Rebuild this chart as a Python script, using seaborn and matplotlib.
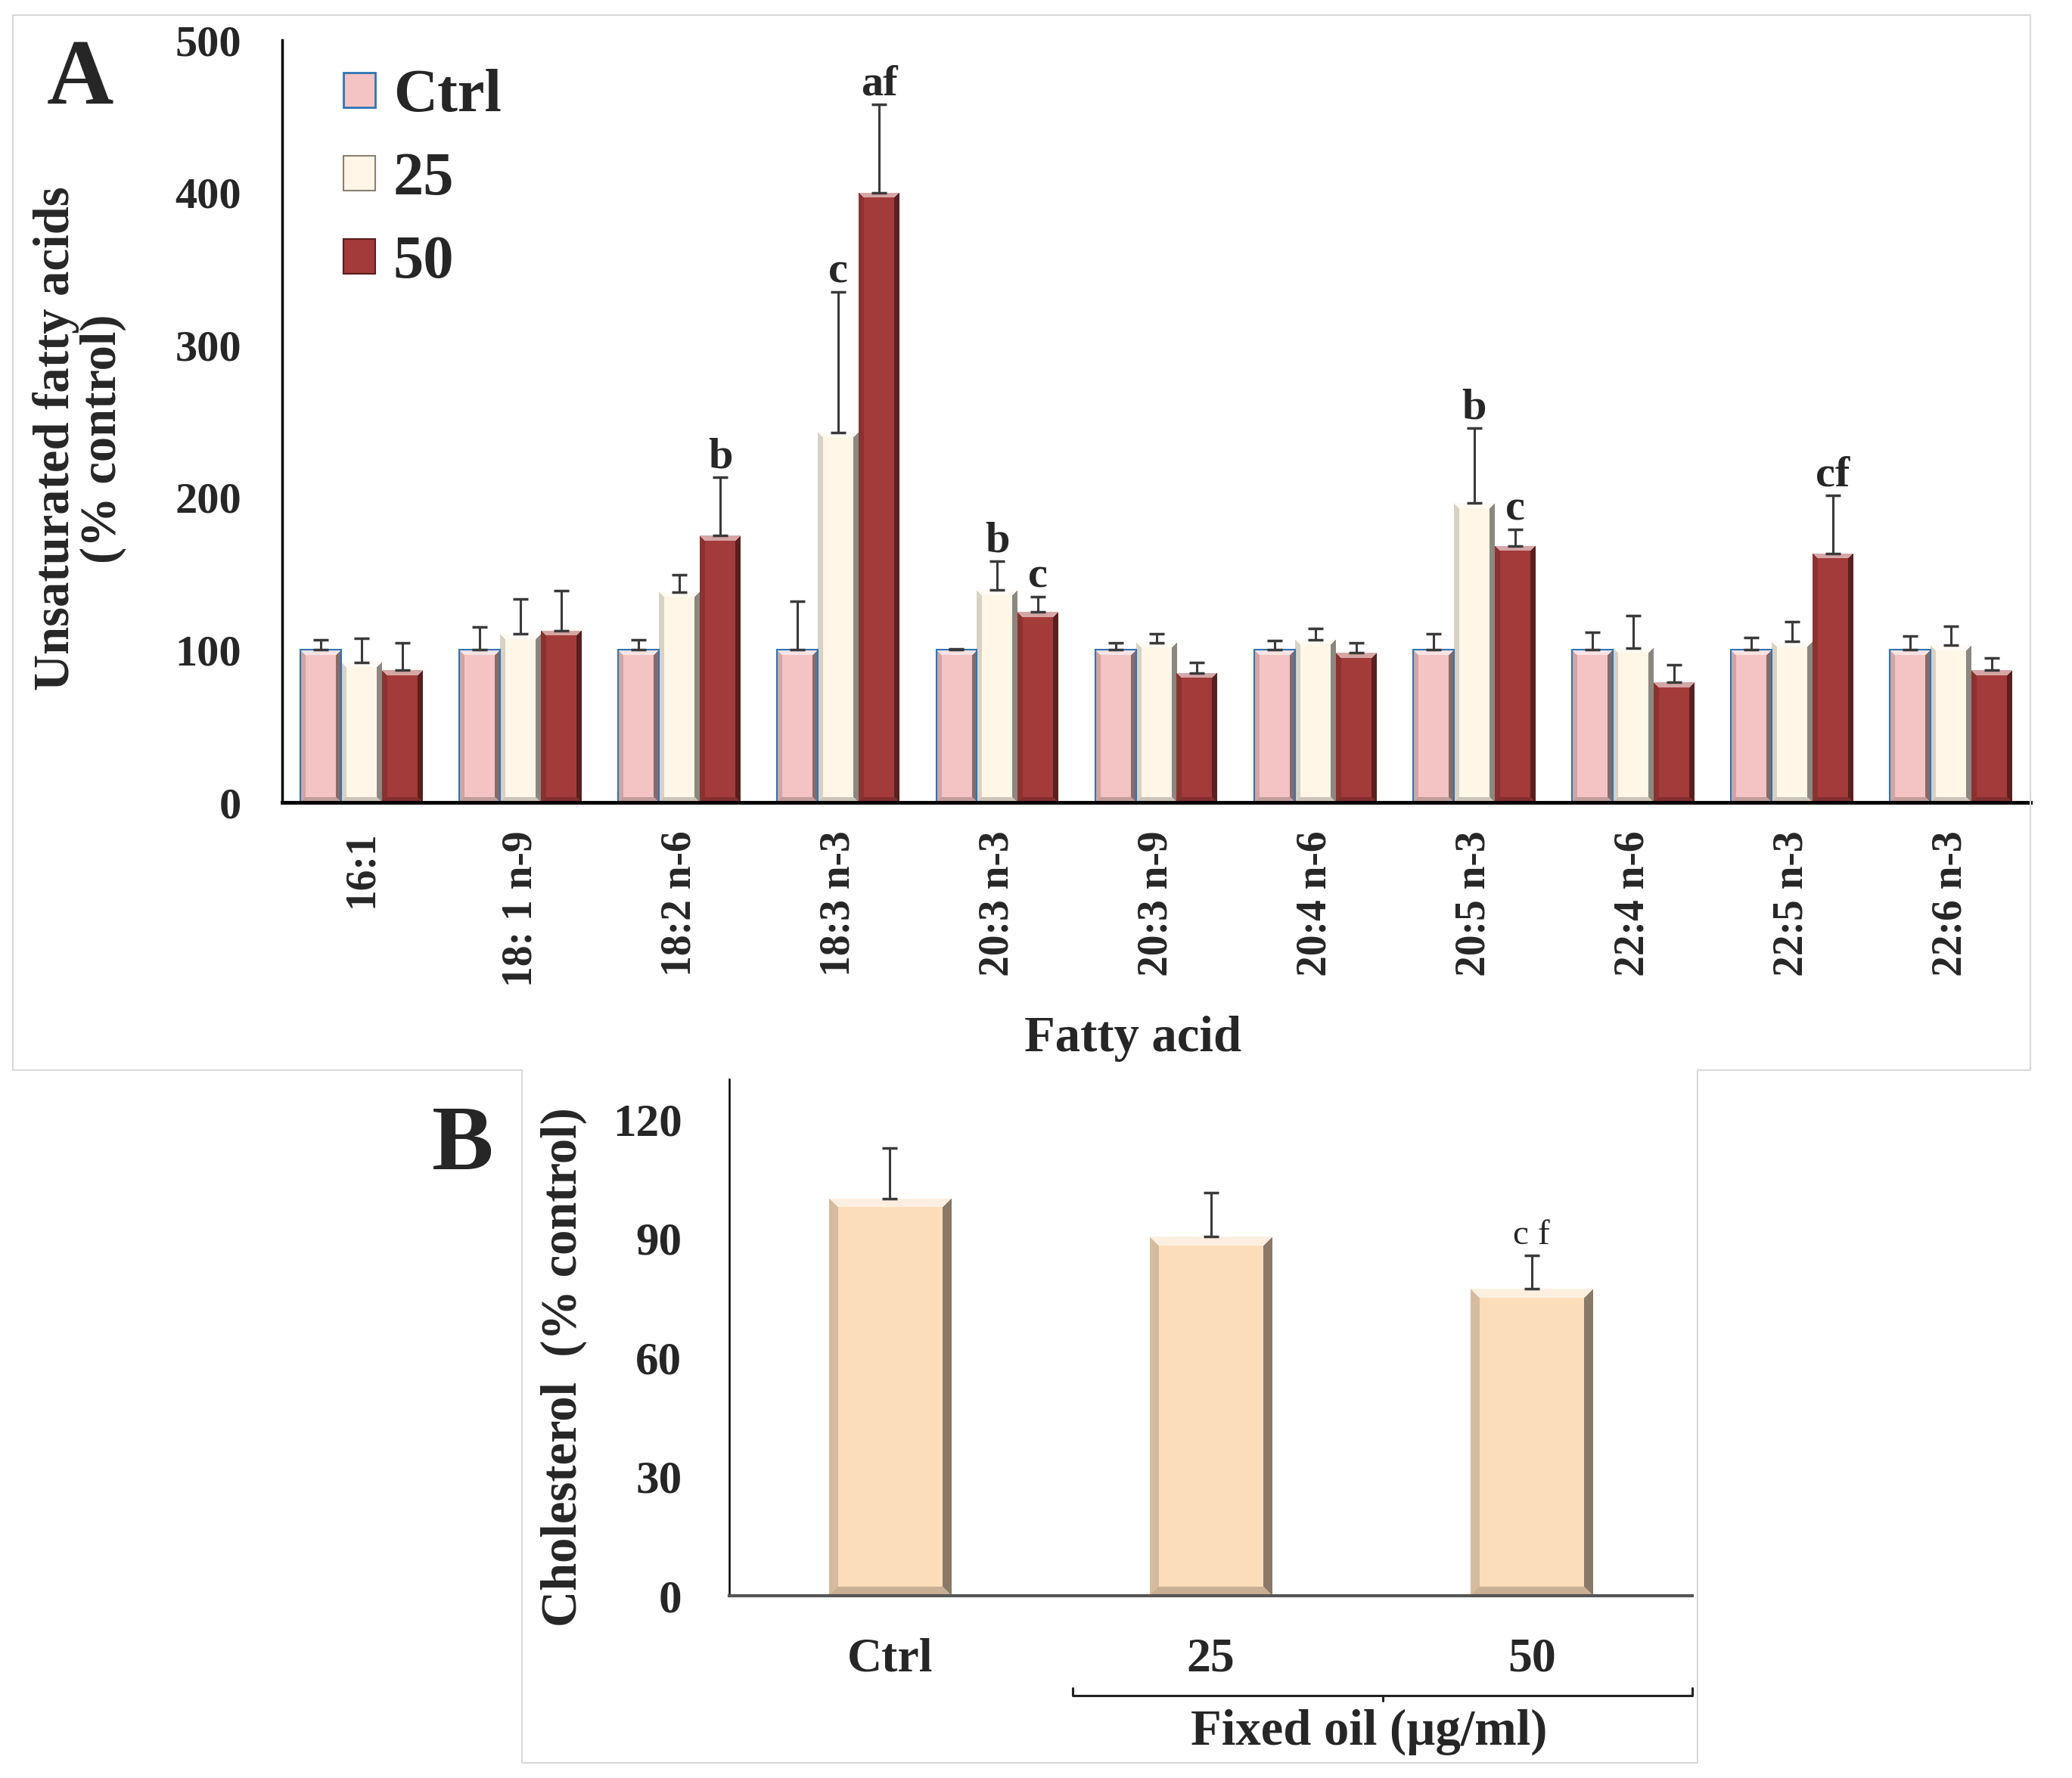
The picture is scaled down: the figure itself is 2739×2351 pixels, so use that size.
import numpy as np
import pandas as pd
import matplotlib
matplotlib.use('Agg')
import matplotlib.pyplot as plt
import matplotlib.transforms as mtransforms
from matplotlib.colors import to_rgb
from matplotlib.patches import Patch
from matplotlib.lines import Line2D
import seaborn as sns

# Panel A data: unsaturated fatty acids (% control)
acids = ['16:1', '18: 1 n-9', '18:2 n-6', '18:3 n-3', '20:3 n-3', '20:3 n-9',
         '20:4 n-6', '20:5 n-3', '22:4 n-6', '22:5 n-3', '22:6 n-3']
groups = ['Ctrl', '25', '50']
ctrl = [100, 100, 100, 100, 100, 100, 100, 100, 100, 100, 100]
ctrl_err = [6.5, 15, 6.5, 32, 0.5, 4.7, 6.3, 10.7, 11.6, 7.9, 9]
d25 = [91.8, 110.6, 138, 242.8, 139.3, 104.7, 106.7, 196.4, 101.4, 105.5, 103]
d25_err = [15.9, 22.6, 11.3, 92, 18.7, 6, 7.5, 49.3, 20.9, 13, 12.4]
d50 = [86.6, 112.7, 175, 400, 124.8, 85, 98.2, 168.4, 78.8, 163.4, 86.8]
d50_err = [18.2, 26.3, 38.4, 58, 10, 6.9, 6.5, 10.7, 11.4, 38.1, 7.7]

# significance letters in panel A
sig_acid = ['18:2 n-6', '18:3 n-3', '18:3 n-3', '20:3 n-3', '20:3 n-3', '20:5 n-3', '20:5 n-3', '22:5 n-3']
sig_group = ['50', '25', '50', '25', '50', '25', '50', '50']
sig_text = ['b', 'c', 'af', 'b', 'c', 'b', 'c', 'cf']

# Panel B data: cholesterol (% control)
b_groups = ['Ctrl', '25', '50']
b_vals = [100, 90.4, 77.2]
b_err = [12.6, 11.0, 8.4]
b_sig = ['', '', 'c f']

colorsA = ['#F4C3C3', '#FFF6E8', '#A33B3A']
colorB = '#FCDDBA'

W, H = 2739, 2351
sns.set_style('white')
plt.rcParams['font.family'] = ['Liberation Serif', 'DejaVu Serif']
plt.rcParams['font.weight'] = 'bold'

fig = plt.figure(figsize=(W / 100, H / 100), dpi=100)


def px(x, y):
    return x / W, 1 - y / H


def bevel(color, w, h, e):
    # flat colour with a light top chevron, shaded sides and a darker foot
    base = np.array(to_rgb(color))
    w = max(w, 2 * e + 2)
    h = max(h, 2 * e + 2)
    img = np.tile(base, (h, w, 1))
    img[:, :e] = base * 0.85
    img[:, w - e:] = base * 0.55
    hi = base + (1 - base) * 0.55
    lo = base * 0.8
    for r in range(e):
        img[r, r:w - r] = hi
        img[h - 1 - r, r:w - r] = lo
    return img


def shade_bars(ax, patches, color, e):
    for p in patches:
        x0, y0 = p.get_x(), p.get_y()
        x1, y1 = x0 + p.get_width(), y0 + p.get_height()
        (a, b), (c, d) = ax.transData.transform([(x0, y0), (x1, y1)])
        img = bevel(color, int(round(c - a)), int(round(d - b)), e)
        im = ax.imshow(img, extent=[x0, x1, y0, y1], aspect='auto', origin='upper',
                       interpolation='nearest', zorder=1.5)
        im.set_clip_path(p)
        p.set_facecolor('none')
        p.set_zorder(2)


# ---------------- Panel A ----------------
axA = fig.add_axes([373 / W, 1 - 1061 / H, (2684 - 373) / W, (1061 - 53) / H])
dfA = pd.DataFrame({'acid': acids * 3,
                    'group': [g for g in groups for _ in acids],
                    'value': ctrl + d25 + d50})
sns.barplot(data=dfA, x='acid', y='value', hue='group', order=acids, hue_order=groups,
            palette=dict(zip(groups, colorsA)), width=0.77, errorbar=None,
            saturation=1, legend=False, ax=axA)
axA.set_xlim(-0.5, len(acids) - 0.5)
axA.set_ylim(0, 500)

valsA = [ctrl, d25, d50]
errsA = [ctrl_err, d25_err, d50_err]
barsA = [list(c.patches) for c in axA.containers]
for j, bars in enumerate(barsA):
    shade_bars(axA, bars, colorsA[j], 7)
    for p in bars:
        p.set_edgecolor('#2E75B6' if j == 0 else 'none')
        p.set_linewidth(1.5)
    xs = [p.get_x() + p.get_width() / 2 for p in bars]
    axA.errorbar(xs, valsA[j], yerr=[np.zeros(len(xs)), errsA[j]], fmt='none',
                 ecolor='#3a3a3a', elinewidth=2.2, capsize=7, capthick=2.5, zorder=3)
axA.set_xlim(-0.5, len(acids) - 0.5)
axA.set_ylim(0, 500)

for acid, grp, txt in zip(sig_acid, sig_group, sig_text):
    i, j = acids.index(acid), groups.index(grp)
    p = barsA[j][i]
    axA.annotate(txt, xy=(p.get_x() + p.get_width() / 2, valsA[j][i] + errsA[j][i]),
                 xytext=(0, 9), textcoords='offset points', ha='center', va='baseline',
                 fontsize=42, fontweight='bold', zorder=4)

sns.despine(ax=axA)
axA.spines['left'].set_linewidth(2.5)
axA.spines['bottom'].set_linewidth(3.5)
axA.spines['left'].set_color('black')
axA.spines['bottom'].set_color('black')
axA.set_yticks(range(0, 501, 100))
axA.set_xticks(np.arange(-0.5, len(acids), 1.0))
axA.set_xticklabels([])
axA.set_xticks(range(len(acids)), minor=True)
axA.set_xticklabels(acids, minor=True, rotation=90, fontsize=40, fontweight='bold')
axA.tick_params(axis='x', which='major', direction='out', length=15, width=1.5, color='black')
axA.tick_params(axis='x', which='minor', length=0, pad=27)
axA.tick_params(axis='y', direction='out', length=15, width=1.5, color='black',
                labelsize=42, pad=24)
for lab in axA.get_yticklabels():
    lab.set_fontweight('bold')
axA.set_xlabel('')
axA.set_ylabel('')

handles = [Patch(facecolor=colorsA[0], edgecolor='#2E75B6', linewidth=2),
           Patch(facecolor=colorsA[1], edgecolor='#8B7F72', linewidth=1.5),
           Patch(facecolor=colorsA[2], edgecolor='#5a1e1e', linewidth=1.5)]
axA.legend(handles, groups, loc='upper left', bbox_to_anchor=(0.035, 0.962),
           frameon=False, borderpad=0, borderaxespad=0, handlelength=0.52,
           handleheight=0.5, handletextpad=0.3, labelspacing=0.46,
           prop={'size': 58, 'weight': 'bold'})

fig.text(*px(105, 580), 'Unsaturated fatty acids\n(% control)', rotation=90,
         ha='center', va='center', ma='center', fontsize=48, fontweight='bold', linespacing=1.0)
fig.text(*px(1498, 1374), 'Fatty acid', ha='center', va='center', fontsize=48, fontweight='bold')
fig.text(*px(62, 137), 'A', ha='left', va='baseline', fontsize=88, fontweight='bold')

# ---------------- Panel B ----------------
axB = fig.add_axes([964 / W, 1 - 2110 / H, (2237 - 964) / W, (2110 - 1427) / H])
sns.barplot(x=b_groups, y=b_vals, color=colorB, width=0.38, errorbar=None,
            saturation=1, ax=axB)
axB.set_xlim(-0.5, 2.5)
axB.set_ylim(0, 130)
barsB = list(axB.containers[0].patches)
shade_bars(axB, barsB, colorB, 12)
for p in barsB:
    p.set_edgecolor('none')
xsB = [p.get_x() + p.get_width() / 2 for p in barsB]
axB.errorbar(xsB, b_vals, yerr=[np.zeros(3), b_err], fmt='none', ecolor='#3a3a3a',
             elinewidth=2.2, capsize=7, capthick=2.5, zorder=3)
for x, v, e, t in zip(xsB, b_vals, b_err, b_sig):
    if t:
        axB.annotate(t, xy=(x, v + e), xytext=(0, 11), textcoords='offset points',
                     ha='center', va='baseline', fontsize=34, fontweight='normal')
axB.set_xlim(-0.5, 2.5)
axB.set_ylim(0, 130)

sns.despine(ax=axB)
axB.spines['left'].set_linewidth(1.8)
axB.spines['left'].set_color('black')
axB.spines['bottom'].set_linewidth(3)
axB.spines['bottom'].set_color('#555555')
axB.set_yticks(range(0, 121, 30))
axB.set_xticks([-0.5, 0.5, 1.5, 2.5])
axB.set_xticklabels([])
axB.set_xticks([0, 1, 2], minor=True)
axB.set_xticklabels(b_groups, minor=True, fontsize=46, fontweight='bold')
axB.tick_params(axis='x', which='major', direction='out', length=15, width=1.5, color='#333333')
axB.tick_params(axis='x', which='minor', length=0, pad=40)
axB.tick_params(axis='y', direction='out', length=15, width=1.5, color='black',
                labelsize=44, pad=30)
for lab in axB.get_yticklabels():
    lab.set_fontweight('bold')
axB.set_xlabel('')
axB.set_ylabel('')

# bracket under the treatment groups
trB = mtransforms.blended_transform_factory(axB.transData, axB.transAxes)
xl, xr, yb = 0.57, 2.5, -0.193
axB.add_line(Line2D([xl, xl, xr, xr], [yb + 0.014, yb, yb, yb + 0.014], transform=trB,
                    color='#222222', linewidth=2.2, clip_on=False))
axB.add_line(Line2D([(xl + xr) / 2] * 2, [yb, yb - 0.01], transform=trB,
                    color='#222222', linewidth=2.2, clip_on=False))

fig.text(*px(1810, 2290), 'Fixed oil (\u00b5g/ml)', ha='center', va='center',
         fontsize=48, fontweight='bold')
fig.text(*px(745, 1808), 'Cholesterol  (% control)', rotation=90, ha='center', va='center',
         fontsize=48, fontweight='bold')
fig.text(*px(571, 1546), 'B', ha='left', va='baseline', fontsize=88, fontweight='bold')

# light grey panel frames
frame_x = [17, 2684, 2684, 2244, 2244, 690, 690, 17, 17]
frame_y = [20, 20, 1415, 1415, 2331, 2331, 1415, 1415, 20]
fig.add_artist(Line2D([x / W for x in frame_x], [1 - y / H for y in frame_y],
                      transform=fig.transFigure, color='#D9D9D9', linewidth=1.5))

fig.savefig('out.png', dpi=100, facecolor='white')
